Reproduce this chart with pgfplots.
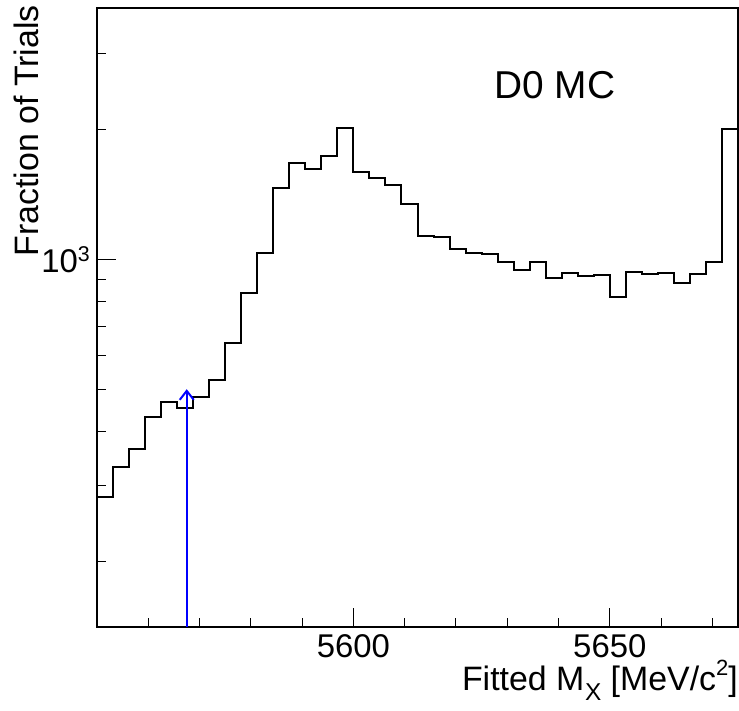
\documentclass[border=0pt]{standalone}
\usepackage{pgfplots}
\pgfplotsset{compat=1.18}
\usepackage{fontspec}
\setmainfont{Liberation Sans}
\usetikzlibrary{arrows.meta}

\pgfplotstableread{
x y
5550.000 283
5553.125 332
5556.250 366
5559.375 432
5562.500 468
5565.625 453
5568.750 481
5571.875 527
5575.000 641
5578.125 840
5581.250 1036
5584.375 1466
5587.500 1680
5590.625 1624
5593.750 1741
5596.875 2016
5600.000 1597
5603.125 1551
5606.250 1494
5609.375 1350
5612.500 1135
5615.625 1131
5618.750 1062
5621.875 1036
5625.000 1031
5628.125 989
5631.250 947
5634.375 988
5637.500 910
5640.625 933
5643.750 920
5646.875 925
5650.000 820
5653.125 936
5656.250 930
5659.375 935
5662.500 886
5665.625 927
5668.750 989
5671.875 2014
5675.000 2014
}\histdata

\begin{document}
\begin{tikzpicture}
\path[use as bounding box] (0bp,0bp) rectangle (739bp,711bp);
\begin{axis}[
  at={(97bp,84bp)}, anchor=south west,
  scale only axis, width=641bp, height=619bp,
  xmin=5550, xmax=5675, ymode=log, ymin=141.3, ymax=3833,
  axis line style={line width=1.3bp},
  xtick={5600,5650},
  minor xtick={5560,5570,5580,5590,5610,5620,5630,5640,5660,5670},
  ytick={1000}, yticklabels={10\raisebox{0.34em}{\scalebox{0.65}{3}}},
  minor ytick={200,300,400,500,600,700,800,900,2000,3000},
  tick pos=left, tick align=inside,
  major tick length=19bp, minor tick length=9bp,
  every tick/.style={black, line width=1bp},
  /pgf/number format/assume math mode=true,
  /pgf/number format/1000 sep={},
  xticklabel style={font=\fontsize{33}{36}\selectfont, anchor=north, inner sep=0pt, yshift=-7bp},
  yticklabel style={font=\fontsize{33}{36}\selectfont, anchor=base east, inner sep=0pt, xshift=-7bp, yshift=-13bp},
  xlabel={Fitted M\kern0.02em\raisebox{-0.32em}{\scalebox{0.72}{X}} [MeV/c\raisebox{0.42em}{\scalebox{0.65}{2}}]},
  xlabel style={font=\fontsize{34}{36}\selectfont, at={(axis description cs:1,-0.1018)}, anchor=base east, inner sep=0pt},
  ylabel={Fraction of Trials},
  ylabel style={font=\fontsize{34}{36}\selectfont, at={(axis description cs:-0.0905,1.0048)}, anchor=base east, inner sep=0pt},
]
\addplot[const plot, black, line width=2bp] table[x=x, y=y] {\histdata};
\addplot[blue, line width=2bp, -{Straight Barb[length=9bp,width=14bp]}] coordinates {(5567.5,141.3) (5567.5,502)};
\node[anchor=base, inner sep=0pt, font=\fontsize{39}{41}\selectfont] at (axis description cs:0.7145,0.854) {D0 MC};
\end{axis}
\end{tikzpicture}
\end{document}
